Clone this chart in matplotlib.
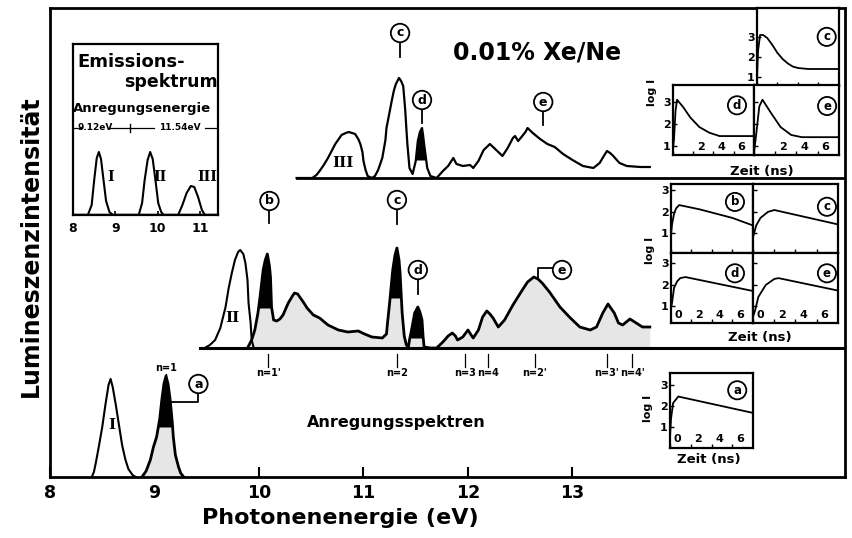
import matplotlib
matplotlib.use("Agg")
import matplotlib.pyplot as plt
import numpy as np

W, H = 853, 538

# ---- bottom spectrum (baseline = x axis) ----
E_band1 = [8.40, 8.42, 8.44, 8.47, 8.50, 8.53, 8.56, 8.58, 8.60, 8.63, 8.66, 8.69, 8.72, 8.75, 8.79, 8.82]
I_band1 = [0, 5, 15, 32, 50, 72, 92, 98, 90, 72, 52, 32, 18, 8, 2, 0]
E_xe_a = [8.88, 8.92, 8.96, 8.99, 9.02, 9.05, 9.07, 9.09, 9.11, 9.13, 9.15, 9.17, 9.18, 9.20, 9.23, 9.25, 9.28]
I_xe_a = [0, 6, 17, 30, 40, 58, 77, 93, 101, 93, 77, 55, 40, 22, 10, 4, 0]

# ---- middle spectrum ----
E_band2 = [9.48, 9.53, 9.58, 9.63, 9.68, 9.71, 9.74, 9.77, 9.80, 9.82, 9.85, 9.87, 9.89, 9.90, 9.92, 9.93, 9.95]
I_band2 = [0, 3, 8, 20, 41, 60, 75, 88, 96, 98, 94, 85, 68, 45, 25, 8, 0]
E_mid = [9.89, 9.93, 9.96, 9.99, 10.01, 10.04, 10.06, 10.08, 10.10, 10.11,
         10.12, 10.14, 10.17, 10.20, 10.23, 10.28, 10.32, 10.34, 10.37, 10.39,
         10.43, 10.46, 10.52, 10.58, 10.66, 10.76, 10.85, 10.95, 11.01, 11.08,
         11.18, 11.22, 11.23, 11.25, 11.28, 11.30, 11.32, 11.34, 11.35, 11.37,
         11.39, 11.41, 11.43, 11.44, 11.46, 11.49, 11.52, 11.54, 11.56, 11.57,
         11.58, 11.64, 11.70, 11.76, 11.81, 11.85, 11.88, 11.90, 11.95, 12.00,
         12.03, 12.05, 12.10, 12.14, 12.18, 12.21, 12.24, 12.29, 12.35, 12.43,
         12.52, 12.57, 12.63, 12.67, 12.71, 12.78, 12.88, 12.98, 13.07, 13.17,
         13.23, 13.29, 13.34, 13.38, 13.40, 13.44, 13.48, 13.55, 13.61, 13.67,
         13.74]
I_mid = [0, 8, 18, 35, 51, 78, 88, 94, 82, 71,
         41, 28, 27, 29, 33, 45, 52, 55, 54, 51,
         45, 40, 33, 30, 23, 18, 16, 17, 14, 11,
         10, 14, 25, 45, 78, 92, 100, 88, 75, 35,
         12, 3, 1, 8, 18, 35, 41, 36, 28, 12,
         1, 0, 0, 6, 12, 15, 12, 8, 11, 18,
         13, 10, 18, 31, 37, 34, 30, 21, 28, 43,
         58, 66, 71, 69, 65, 56, 41, 30, 21, 18,
         21, 35, 44, 38, 35, 25, 23, 29, 25, 21,
         21]

# ---- top spectrum ----
E_top = [10.36, 10.51, 10.55, 10.58, 10.62, 10.66, 10.70, 10.73, 10.77, 10.79,
         10.83, 10.86, 10.89, 10.92, 10.95, 10.97, 10.99, 11.00, 11.02, 11.04,
         11.08, 11.11, 11.14, 11.18, 11.21, 11.22, 11.25, 11.27, 11.29, 11.31,
         11.34, 11.36, 11.38, 11.39, 11.40, 11.41, 11.42, 11.43, 11.44, 11.47,
         11.50, 11.52, 11.54, 11.56, 11.57, 11.58, 11.60, 11.61, 11.64, 11.70,
         11.76, 11.81, 11.86, 11.89, 11.95, 12.02, 12.05, 12.10, 12.15, 12.21,
         12.25, 12.28, 12.33, 12.38, 12.43, 12.45, 12.48, 12.52, 12.55, 12.57,
         12.62, 12.69, 12.76, 12.83, 12.91, 13.00, 13.10, 13.20, 13.26, 13.30,
         13.33, 13.36, 13.39, 13.45, 13.52, 13.65, 13.74]
I_top = [0, 0, 3, 7, 13, 20, 28, 34, 40, 43,
         45, 46, 45, 44, 39, 34, 26, 17, 8, 2,
         0, 2, 8, 20, 38, 50, 66, 77, 87, 94,
         100, 97, 92, 80, 67, 50, 34, 22, 10, 4,
         17, 37, 46, 50, 43, 34, 18, 10, 2, 0,
         7, 12, 20, 14, 12, 13, 10, 17, 28, 34,
         30, 27, 22, 30, 40, 42, 37, 42, 46, 50,
         45, 39, 34, 31, 24, 18, 12, 10, 15, 22,
         27, 25, 22, 15, 12, 11, 11]

# ---- emission spectrum (inset) ----
E_em = [8.02, 8.35, 8.44, 8.50, 8.56, 8.61, 8.66, 8.72, 8.78, 8.86, 8.94,
        9.55, 9.63, 9.69, 9.76, 9.82, 9.88, 9.95, 10.01, 10.08, 10.14,
        10.48, 10.58, 10.68, 10.78, 10.86, 10.95, 11.04, 11.11, 11.42]
I_em = [0, 0, 10, 35, 57, 63, 56, 35, 14, 3, 0,
        0, 12, 35, 55, 63, 56, 33, 12, 3, 0,
        0, 10, 22, 29, 28, 18, 5, 0, 0]

# ---- decay curves: log I vs Zeit (ns) ----
t_top_c = [0, 0.1, 0.3, 0.6, 1.0, 1.5, 2.0, 2.5, 3.0, 3.5, 4.0, 5.0, 8.0]
y_top_c = [0.9, 2.3, 3.1, 3.1, 2.95, 2.6, 2.2, 1.9, 1.68, 1.52, 1.45, 1.4, 1.4]
t_top_d = [0, 0.1, 0.25, 0.4, 1.0, 1.7, 2.6, 3.6, 4.6, 8.0]
y_top_d = [0.9, 1.3, 2.6, 3.1, 2.77, 2.3, 1.86, 1.6, 1.45, 1.45]
t_top_e = [0, 0.2, 0.5, 0.8, 1.6, 2.5, 3.5, 4.5, 8.0]
y_top_e = [0.7, 1.5, 2.8, 3.1, 2.5, 1.86, 1.5, 1.4, 1.4]
t_mid_b = [0, 0.1, 0.3, 0.5, 0.8, 2.8, 6.0, 8.0]
y_mid_b = [0.9, 1.4, 1.9, 2.15, 2.3, 2.1, 1.7, 1.35]
t_mid_c = [0, 0.3, 0.7, 1.4, 2.0, 8.0]
y_mid_c = [0.8, 1.35, 1.7, 1.98, 2.07, 1.4]
t_mid_d = [0, 0.1, 0.3, 0.6, 0.9, 1.4, 8.0]
y_mid_d = [0.9, 1.15, 1.85, 2.15, 2.3, 2.35, 1.7]
t_mid_e = [0, 0.2, 0.5, 1.2, 2.0, 2.4, 8.0]
y_mid_e = [0.5, 0.8, 1.42, 1.98, 2.26, 2.3, 1.72]
t_a = [0, 0.1, 0.3, 0.8, 8.0]
y_a = [0.5, 1.4, 2.14, 2.45, 1.67]

# level labels under the middle spectrum
n_labels = ["n=1'", "n=2", "n=3", "n=4", "n=2'", "n=3'", "n=4'"]
n_energy = [10.09, 11.32, 11.97, 12.19, 12.64, 13.33, 13.57]

BASE_MID = 129
BASE_TOP = 299
SHADE = '#e6e6e6'

plt.rcParams['font.family'] = 'DejaVu Sans'
plt.rcParams['font.weight'] = 'bold'

fig = plt.figure(figsize=(W / 100, H / 100), dpi=100)


def px_axes(x0, y0, x1, y1):
    return fig.add_axes([x0 / W, 1 - y1 / H, (x1 - x0) / W, (y1 - y0) / H])


def fpx(x, y):
    return x / W, 1 - y / H


ax = px_axes(50, 8, 845, 477)
ax.set_xlim(8, 15.608)
ax.set_ylim(0, 469)
ax.set_yticks([])
ax.set_xticks([8, 9, 10, 11, 12, 13])
ax.tick_params(axis='x', direction='in', length=7, width=1.5, labelsize=12.5, pad=5)
for s in ax.spines.values():
    s.set_linewidth(2)


def shaded(x, y, base, cores):
    x = np.array(x)
    y = np.array(y)
    ax.fill_between(x, base, base + y, color=SHADE, lw=0, zorder=2)
    for lo, hi, thr in cores:
        m = (x >= lo) & (x <= hi) & (y > thr)
        ax.fill_between(x, base + thr, base + y, where=m, interpolate=True, color='k', lw=0, zorder=3)
    ax.plot(x, base + y, color='k', lw=2.0, zorder=4)


# bottom
ax.plot(E_band1, I_band1, color='k', lw=1.5, zorder=4)
shaded(E_xe_a, I_xe_a, 0, [(8.9, 9.3, 50)])

# middle
ax.plot([9.44, 15.608], [BASE_MID, BASE_MID], color='k', lw=2.2, zorder=5)
ax.plot(E_band2, BASE_MID + np.array(I_band2), color='k', lw=1.5, zorder=4)
shaded(E_mid, I_mid, BASE_MID, [(9.95, 10.15, 40), (11.25, 11.40, 50), (11.45, 11.60, 10)])

# top
ax.plot([10.36, 15.608], [BASE_TOP, BASE_TOP], color='k', lw=2.0, zorder=5)
xt = np.array(E_top)
yt = np.array(I_top)
m = (xt >= 11.48) & (xt <= 11.63) & (yt > 18)
ax.fill_between(xt, BASE_TOP + 18, BASE_TOP + yt, where=m, interpolate=True, color='k', lw=0, zorder=3)
ax.plot(xt, BASE_TOP + yt, color='k', lw=1.6, zorder=4)


def circ(axx, x, y, s, size=9, **kw):
    axx.text(x, y, s, ha='center', va='center', fontsize=size, fontweight='bold', zorder=7,
             bbox=dict(boxstyle='circle,pad=0.22', fc='white', ec='k', lw=1.3), **kw)


def seg(xs, ys, lw=1.3):
    ax.plot(xs, ys, color='k', lw=lw, zorder=6)


# circled markers on the spectra
circ(ax, 9.42, 93, 'a')
seg([9.15, 9.42, 9.42], [75, 75, 85])
circ(ax, 10.10, 276, 'b')
seg([10.10, 10.10], [268, 254])
circ(ax, 11.32, 277, 'c')
seg([11.32, 11.32], [269, 253])
circ(ax, 11.52, 207, 'd')
seg([11.52, 11.52], [199, 183])
circ(ax, 12.90, 207, 'e')
seg([12.67, 12.67, 12.81], [199, 209, 209])
circ(ax, 11.35, 444, 'c')
seg([11.35, 11.35], [436, 420])
circ(ax, 11.56, 377, 'd')
seg([11.56, 11.56], [369, 354])
circ(ax, 12.72, 375, 'e')
seg([12.72, 12.72], [367, 352])

# n labels
for lab, e in zip(n_labels, n_energy):
    ax.text(e, BASE_MID - 25, lab, ha='center', va='center', fontsize=7, fontweight='bold')
    seg([e, e], [BASE_MID - 6, BASE_MID - 19], lw=0.9)
ax.text(9.11, 109, 'n=1', ha='center', va='center', fontsize=7, fontweight='bold')
seg([9.11, 9.11], [103, 96], lw=0.9)

# roman numerals
for e, y, s in [(8.59, 52, 'I'), (9.75, 159, 'II'), (10.80, 314, 'III')]:
    ax.text(e, y, s, ha='center', va='center', fontsize=11, fontweight='bold', family='DejaVu Serif')

ax.text(12.66, 425, '0.01% Xe/Ne', ha='center', va='center', fontsize=17, fontweight='bold')
ax.text(10.46, 55, 'Anregungsspektren', ha='left', va='center', fontsize=11.5, fontweight='bold')

fig.text(*fpx(31, 246), 'Lumineszenzintensität', rotation=90, ha='center', va='center',
         fontsize=17, fontweight='bold', family=['Liberation Sans Narrow', 'DejaVu Sans'])
fig.text(*fpx(340, 518), 'Photonenenergie (eV)', ha='center', va='center',
         fontsize=16, fontweight='bold')

# emission spectrum inset
ai = px_axes(73, 44, 218, 215)
ai.set_xlim(8.02, 11.42)
ai.set_ylim(0, 171)
ai.plot(E_em, I_em, color='k', lw=1.5)
ai.axhline(0, color='k', lw=2.5)
ai.set_yticks([])
ai.set_xticks([8, 9, 10, 11])
ai.tick_params(axis='x', direction='in', length=3, width=1.2, labelsize=9, pad=5)
for s in ai.spines.values():
    s.set_linewidth(1.6)
for e, s in [(8.89, 'I'), (10.06, 'II'), (11.16, 'III')]:
    ai.text(e, 38, s, ha='center', va='center', fontsize=10, fontweight='bold', family='DejaVu Serif')
ai.text(0.03, 0.895, 'Emissions-', transform=ai.transAxes, ha='left', va='center', fontsize=13)
ai.text(1.0, 0.778, 'spektrum', transform=ai.transAxes, ha='right', va='center', fontsize=12.5)
ai.text(0.0, 0.62, 'Anregungsenergie', transform=ai.transAxes, ha='left', va='center', fontsize=9.5)
ai.text(0.155, 0.51, '9.12eV', transform=ai.transAxes, ha='center', va='center', fontsize=6.5)
ai.text(0.74, 0.51, '11.54eV', transform=ai.transAxes, ha='center', va='center', fontsize=6.5)
for x0, x1 in [(0.0, 0.06), (0.245, 0.56), (0.91, 1.0)]:
    ai.plot([x0, x1], [0.51, 0.51], transform=ai.transAxes, color='k', lw=0.9)
ai.plot([0.39, 0.39], [0.485, 0.535], transform=ai.transAxes, color='k', lw=1.0)

# decay panels
panels = [
    # rect, t, y, ylim, letter, letter pos, y labels, x labels
    ((757, 8, 839, 86), t_top_c, y_top_c, (0.55, 4.45), 'c', (0.85, 0.63), True, []),
    ((673, 85, 754, 155), t_top_d, y_top_d, (0.59, 3.77), 'd', (0.79, 0.71), True, ['2', '4', '6']),
    ((754, 85, 839, 155), t_top_e, y_top_e, (0.59, 3.77), 'e', (0.86, 0.70), False, ['2', '4', '6']),
    ((671, 184, 753, 253), t_mid_b, y_mid_b, (0.07, 3.28), 'b', (0.78, 0.74), True, []),
    ((753, 184, 838, 253), t_mid_c, y_mid_c, (0.07, 3.28), 'c', (0.87, 0.67), False, []),
    ((671, 253, 753, 323), t_mid_d, y_mid_d, (0.21, 3.47), 'd', (0.78, 0.71), True, ['0', '2', '4', '6']),
    ((753, 253, 838, 323), t_mid_e, y_mid_e, (0.21, 3.47), 'e', (0.87, 0.71), False, ['0', '2', '4', '6']),
    ((670, 373, 753, 448), t_a, y_a, (0.0, 3.57), 'a', (0.81, 0.77), True, ['0', '2', '4', '6']),
]
for rect, t, y, yl, letter, lpos, ylab, xlabs in panels:
    p = px_axes(*rect)
    p.plot(t, y, color='k', lw=1.3)
    p.set_xlim(0, 8)
    p.set_ylim(*yl)
    p.set_xticks([0, 2, 4, 6])
    p.set_xticklabels([])
    p.set_yticks([1, 2, 3])
    if not ylab:
        p.set_yticklabels([])
    p.tick_params(direction='in', length=3, width=1.0, labelsize=8, pad=1.5)
    for s in p.spines.values():
        s.set_linewidth(1.6)
    for lab in xlabs:
        p.text(int(lab) + 0.35, 0.12, lab, transform=p.get_xaxis_transform(), ha='left',
               va='center', fontsize=8)
    circ(p, lpos[0], lpos[1], letter, size=8.5, transform=p.transAxes)

for (x, y) in [(652, 92), (650, 250), (648, 408)]:
    fig.text(*fpx(x, y), 'log I', rotation=90, ha='center', va='center', fontsize=8)
for (x, y) in [(762, 172), (760, 337), (709, 460)]:
    fig.text(*fpx(x, y), 'Zeit (ns)', ha='center', va='center', fontsize=9.5)

fig.savefig('out.png', dpi=100)
